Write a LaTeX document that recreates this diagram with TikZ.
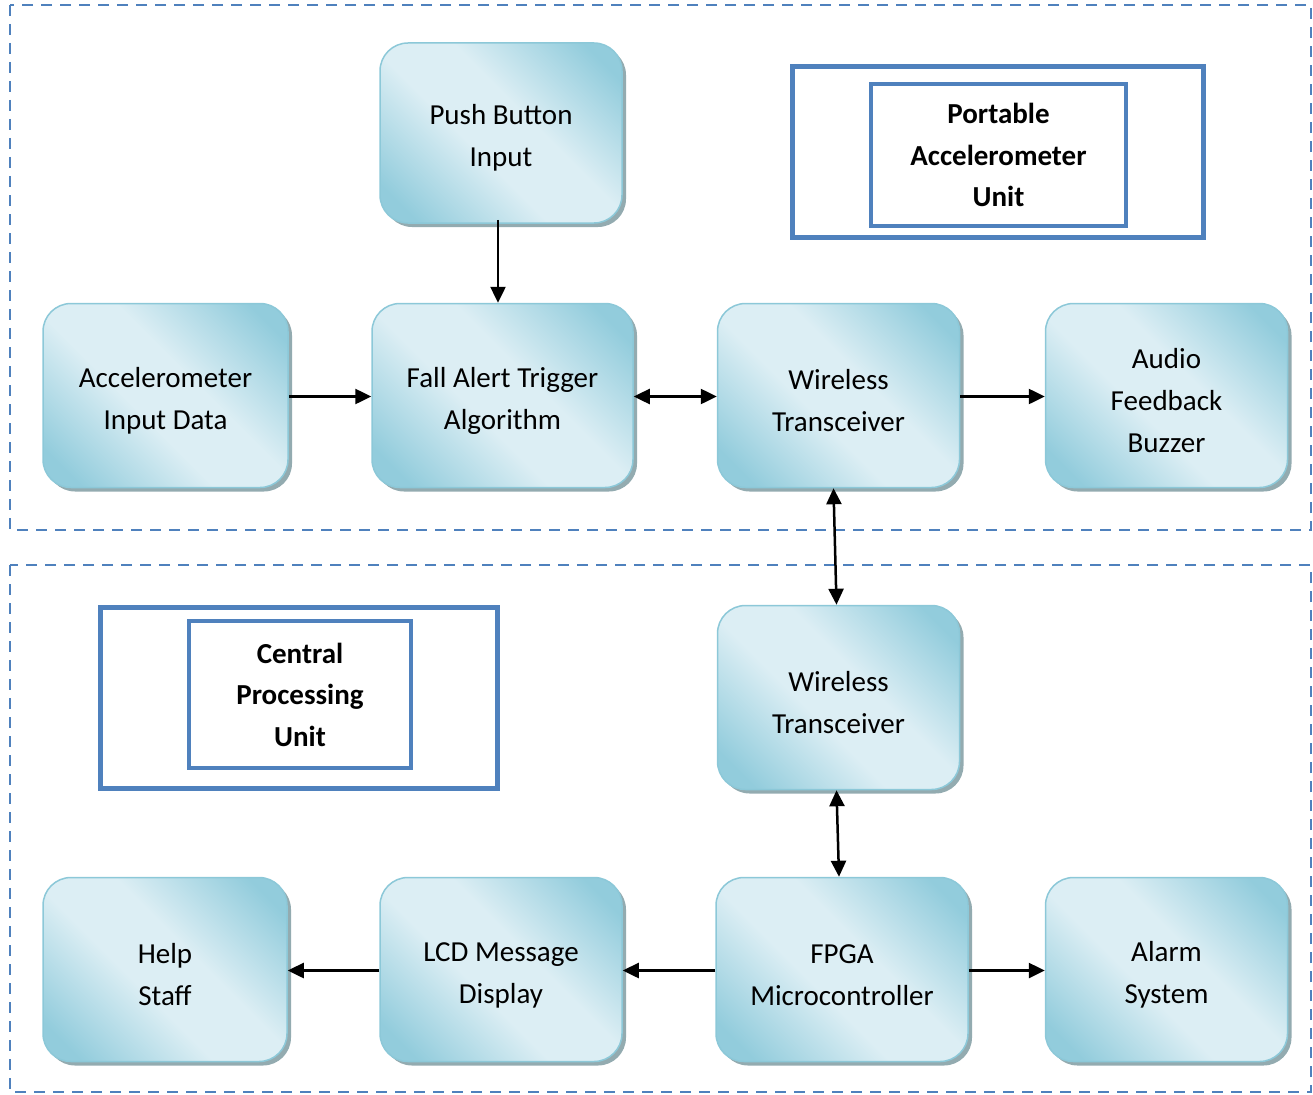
\documentclass[tikz,border=0pt]{standalone}
\usepackage{fontspec}
\setmainfont{Carlito}
\usetikzlibrary{arrows.meta,shadows}

\definecolor{blkdark}{HTML}{92CCDC}
\definecolor{blklight}{HTML}{DCEEF4}
\definecolor{blkedge}{HTML}{8CC8D8}
\definecolor{blkshadow}{HTML}{93ABB0}
\definecolor{frameblue}{HTML}{4F81BD}

% diagonal sheen of the blocks: dark corners, light middle band
\pgfdeclareverticalshading{blksheen}{100bp}{%
  color(0bp)=(blkdark); color(21bp)=(blkdark); color(43bp)=(blklight);
  color(57bp)=(blklight); color(79bp)=(blkdark); color(100bp)=(blkdark)}

% pads the first text line so the label sits a little low in its block
\newcommand\padline{\rule{0pt}{30pt}}

\tikzset{
  blk/.style={
    draw=blkedge, line width=1.5pt, rounded corners=28pt,
    shading=blksheen, shading angle=-45,
    minimum width=242pt, minimum height=184pt, align=center,
    font=\fontsize{29}{42}\selectfont, inner sep=0pt,
    drop shadow={shadow xshift=4pt, shadow yshift=-4pt, fill=blkshadow, opacity=1}
  },
  link/.style={line width=2.5pt, -{Triangle[length=16pt,width=15pt]}},
  dlink/.style={line width=2.5pt, {Triangle[length=16pt,width=15pt]}-{Triangle[length=16pt,width=15pt]}},
  region/.style={draw=frameblue, line width=2.5pt, dash pattern=on 11pt off 8pt},
  outerframe/.style={draw=frameblue, line width=5pt},
  innerframe/.style={draw=frameblue, line width=4pt, align=center,
    font=\fontsize{29}{41.5}\selectfont\bfseries, inner sep=0pt}
}

\begin{document}
\begin{tikzpicture}[x=1pt, y=-1pt]
\useasboundingbox (0,0) rectangle (1313,1094);

% dashed unit regions
\draw[region] (10,5) rectangle (1311,530);
\draw[region] (10,565) rectangle (1311,1092);

% portable unit caption
\draw[outerframe] (792.5,66.5) rectangle (1203.5,237.5);
\node[innerframe, minimum width=255pt, minimum height=142pt] (portable) at (998.5,155)
  {Portable\\Accelerometer\\Unit};

% central unit caption
\draw[outerframe] (100.5,607.5) rectangle (497.5,788.5);
\node[innerframe, minimum width=222pt, minimum height=147pt] (central) at (300,694.5)
  {Central\\Processing\\Unit};

% portable unit blocks
\node[blk, minimum height=180pt] (push) at (501,133) {\padline Push Button\\Input};
\node[blk, minimum width=245pt] (accel) at (165.5,395.5) {\padline Accelerometer\\Input Data};
\node[blk, minimum width=261pt] (fall) at (502.5,395.5) {\padline Fall Alert Trigger\\Algorithm};
\node[blk] (wt1) at (838.5,395.5) {\padline Wireless\\Transceiver};
\node[blk] (audio) at (1166.5,395.5) {\padline Audio\\Feedback\\Buzzer};

% central unit blocks
\node[blk] (wt2) at (838.5,697.5) {\padline Wireless\\Transceiver};
\node[blk, minimum width=244pt] (help) at (165,969.5) {\padline Help\\Staff};
\node[blk] (lcd) at (501,969.5) {\padline LCD Message\\Display};
\node[blk, minimum width=252pt] (fpga) at (842,969.5) {\padline FPGA\\Microcontroller};
\node[blk] (alarm) at (1166.5,969.5) {\padline Alarm\\System};

% connectors
\draw[link] ([xshift=-3pt,yshift=4pt]push.south) -- ([xshift=-3pt]push.south |- fall.north);
\draw[link] ([yshift=-1pt]accel.east) -- ([yshift=-1pt]fall.west);
\draw[dlink] ([yshift=-1pt]fall.east) -- ([yshift=-1pt]wt1.west);
\draw[link] ([yshift=-1pt]wt1.east) -- ([yshift=-1pt]audio.west);
\draw[dlink] ([xshift=-5pt]wt1.south) -- ([xshift=-2pt]wt2.north);
\draw[dlink] ([xshift=-2pt]wt2.south) -- ([xshift=-3pt]fpga.north);
\draw[link] ([yshift=-1pt]fpga.west) -- ([yshift=-1pt]lcd.east);
\draw[link] ([yshift=-1pt]lcd.west) -- ([yshift=-1pt]help.east);
\draw[link] ([yshift=-1pt]fpga.east) -- ([yshift=-1pt]alarm.west);
\end{tikzpicture}
\end{document}
